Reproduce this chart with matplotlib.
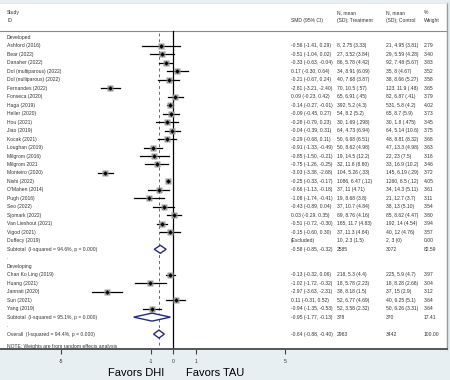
import numpy as np
import matplotlib
matplotlib.use("Agg")
import matplotlib.pyplot as plt
import matplotlib.transforms as mtransforms

plt.rcParams['font.family'] = ['Liberation Sans', 'DejaVu Sans']

# study data, developed countries
dev_names = ["Ashford (2016)", "Bear (2022)", "Danaher (2022)", "Dol (multiparous) (2022)",
             "Dol (nulliparous) (2022)", "Fernandes (2022)", "Fonseca (2020)", "Haga (2019)",
             "Heller (2020)", "Hou (2021)", "Jiao (2019)", "Kocak (2021)", "Loughan (2019)",
             "Milgrom (2016)", "Milgrom 2021", "Monteiro (2020)", "Nishi (2022)",
             "O'Mahen (2014)", "Pugh (2016)", "Seo (2022)", "Sjomark (2022)",
             "Van Lieshout (2021)", "Vigod (2021)", "Duffecy (2019)"]
dev_smd = [-0.56, -0.51, -0.33, 0.17, -0.21, -2.81, 0.09, -0.14, -0.09, -0.28, -0.04, -0.29,
           -0.91, -0.85, -0.75, -3.03, -0.25, -0.66, -1.08, -0.43, 0.03, -0.51, -0.15, np.nan]
dev_lo = [-1.41, -1.04, -0.63, -0.30, -0.67, -3.21, -0.23, -0.27, -0.45, -0.79, -0.39, -0.68,
          -1.33, -1.50, -1.26, -3.38, -0.33, -1.13, -1.74, -0.89, -0.29, -0.72, -0.60, np.nan]
dev_hi = [0.29, 0.02, -0.04, 0.64, 0.24, -2.40, 0.42, -0.01, 0.27, 0.23, 0.31, 0.11,
          -0.49, -0.21, -0.25, -2.68, -0.17, -0.18, -0.41, 0.04, 0.35, -0.30, 0.30, np.nan]
dev_treat = ["8, 2.75 (3.33)", "27, 3.52 (3.84)", "86, 5.78 (4.42)", "34, 8.91 (6.09)",
             "40, 7.68 (3.87)", "70, 10.5 (.57)", "65, 6.91 (.45)", "392, 5.2 (4.3)",
             "54, 8.2 (5.2)", "30, 1.69 (.298)", "64, 4.73 (6.94)", "50, 6.68 (6.51)",
             "50, 8.62 (4.98)", "19, 14.5 (12.2)", "32, 11.8 (8.80)", "104, 5.26 (.33)",
             "1086, 6.47 (.12)", "37, 11 (4.71)", "19, 8.68 (3.8)", "37, 10.7 (4.84)",
             "69, 8.76 (4.16)", "165, 11.7 (4.83)", "37, 11.3 (4.84)", "10, 2.3 (1.5)"]
dev_ctrl = ["21, 4.95 (3.81)", "29, 5.59 (4.28)", "92, 7.48 (5.67)", "35, 8 (4.67)",
            "38, 8.66 (5.27)", "123, 11.9 (.48)", "82, 6.87 (.41)", "531, 5.8 (4.2)",
            "65, 8.7 (5.9)", "30, 1.8 (.475)", "64, 5.14 (10.6)", "48, 8.81 (8.32)",
            "47, 13.3 (4.98)", "22, 23 (7.5)", "33, 16.9 (10.2)", "145, 6.19 (.29)",
            "1260, 6.5 (.12)", "34, 14.3 (5.11)", "21, 12.7 (3.7)", "38, 13 (5.10)",
            "85, 8.62 (4.47)", "192, 14 (4.54)", "40, 12 (4.76)", "2, 3 (0)"]
dev_weight = [2.79, 3.40, 3.83, 3.52, 3.58, 3.65, 3.79, 4.02, 3.73, 3.45, 3.75, 3.68,
              3.63, 3.16, 3.46, 3.72, 4.05, 3.61, 3.11, 3.54, 3.80, 3.94, 3.57, 0.00]
dev_sub = (-0.58, -0.85, -0.32, "2585", "3072", 82.59, "94.6%")

# developing countries
dvg_names = ["Chan Ko Ling (2019)", "Huang (2021)", "Jannati (2020)", "Sun (2021)", "Yang (2019)"]
dvg_smd = [-0.13, -1.02, -2.97, 0.11, -0.94]
dvg_lo = [-0.32, -1.72, -3.63, -0.31, -1.35]
dvg_hi = [0.06, -0.32, -2.31, 0.52, -0.53]
dvg_treat = ["218, 5.3 (4.4)", "18, 5.78 (2.23)", "38, 8.18 (1.5)", "52, 6.77 (4.69)", "52, 3.58 (2.32)"]
dvg_ctrl = ["225, 5.9 (4.7)", "18, 8.28 (2.68)", "37, 15 (2.9)", "40, 6.25 (5.1)", "50, 6.26 (3.31)"]
dvg_weight = [3.97, 3.04, 3.12, 3.64, 3.64]
dvg_sub = (-0.95, -1.77, -0.13, "378", "370", 17.41, "95.1%")

overall = (-0.64, -0.88, -0.40, "2963", "3442", 100.00, "94.4%")

x_ticks = [-5, -1, 0, 1, 5]

TXT = '#333333'
NAVY = '#26288c'
FS = 3.6

fig = plt.figure(figsize=(4.5, 3.8), dpi=100, facecolor='#e7eff2')
ax = fig.add_axes([0, 31 / 380, 447 / 450, 346 / 380])
ax.set_facecolor('white')
ax.set_xlim(-173.3 / 22.4, (447 - 173.3) / 22.4)
ax.set_ylim(36.76, -4.045)

tr = mtransforms.blended_transform_factory(ax.transAxes, ax.transData)


def col(px):
    return px / 447.0


def label(x, y, s, **kw):
    ax.text(col(x), y, s, transform=tr, fontsize=FS, color=TXT, va='center', ha='left', **kw)


def fmt_ci(m, lo, hi):
    return f"{m:.2f} ({lo:.2f}, {hi:.2f})"


# header
label(7, -2.95, "Study")
label(7, -1.96, "ID")
label(291, -1.96, "SMD (95% CI)")
label(337, -2.95, "N, mean")
label(337, -1.96, "(SD); Treatment")
label(386, -2.95, "N, mean")
label(386, -1.96, "(SD); Control")
label(424, -2.95, "%")
label(424, -1.96, "Weight")
ax.axhline(-0.74, color='#8a8a8a', lw=0.8)

# reference lines
ax.plot([0, 0], [-0.74, 36.76], color='black', lw=0.9, zorder=2)
ax.plot([overall[0]] * 2, [-0.5, 36.76], color='#b5475a', lw=0.7, ls=(0, (3, 3)), zorder=2)


def draw_group(start, title, names, smd, lo, hi, treat, ctrl, weight, sub):
    label(7, start, title)
    for i, name in enumerate(names):
        y = start + 1 + i
        label(7, y, name)
        label(337, y, treat[i])
        label(386, y, ctrl[i])
        label(424, y, f"{weight[i]:.2f}")
        if np.isnan(smd[i]):
            label(291, y, "(Excluded)")
            continue
        label(291, y, fmt_ci(smd[i], lo[i], hi[i]))
        ax.plot([lo[i], hi[i]], [y, y], color='black', lw=0.9, zorder=3)
        ax.plot(smd[i], y, marker='s', color='#9a9a9a', ms=2.4 * np.sqrt(weight[i]),
                mec='none', zorder=3)
        ax.plot(smd[i], y, marker='D', color='black', ms=2.3, mec='none', zorder=4)
    ys = start + 1 + len(names)
    draw_summary(ys, "Subtotal", sub)
    label(7, ys + 1, ".")
    return ys + 2


def draw_summary(y, kind, s):
    m, lo, hi, nt, nc, w, i2 = s
    label(7, y, f"{kind}  (I-squared = {i2}, p = 0.000)")
    label(291, y, fmt_ci(m, lo, hi))
    label(337, y, nt)
    label(386, y, nc)
    label(424, y, f"{w:.2f}")
    ax.fill([lo, m, hi, m, lo], [y, y - 0.47, y, y + 0.47, y], facecolor='white',
            edgecolor=NAVY, lw=1.0, zorder=5)


nxt = draw_group(0, "Developed", dev_names, dev_smd, dev_lo, dev_hi, dev_treat, dev_ctrl,
                 dev_weight, dev_sub)
nxt = draw_group(nxt, "Developing", dvg_names, dvg_smd, dvg_lo, dvg_hi, dvg_treat, dvg_ctrl,
                 dvg_weight, dvg_sub)
draw_summary(nxt, "Overall", overall)
label(7, nxt + 1.49, "NOTE: Weights are from random effects analysis")

# axes styling
ax.spines['left'].set_visible(False)
ax.spines['top'].set_color('#dddddd')
ax.spines['top'].set_linewidth(0.5)
ax.spines['right'].set_color('#9a9a9a')
ax.spines['right'].set_linewidth(1.0)
ax.spines['bottom'].set_color('#555555')
ax.spines['bottom'].set_linewidth(1.4)
ax.set_yticks([])
ax.set_xticks(x_ticks)
ax.set_xticklabels([str(t) for t in x_ticks])
ax.tick_params(axis='x', direction='out', length=3.8, width=0.8, color='#444444',
               labelsize=FS, labelcolor=TXT, pad=3.5)

# favors labels
fig.text(164 / 450, 1 - 373 / 380, "Favors DHI", fontsize=8, ha='right', va='center', color='black')
fig.text(186 / 450, 1 - 373 / 380, "Favors TAU", fontsize=8, ha='left', va='center', color='black')

fig.savefig("out.png", dpi=100, facecolor=fig.get_facecolor())
